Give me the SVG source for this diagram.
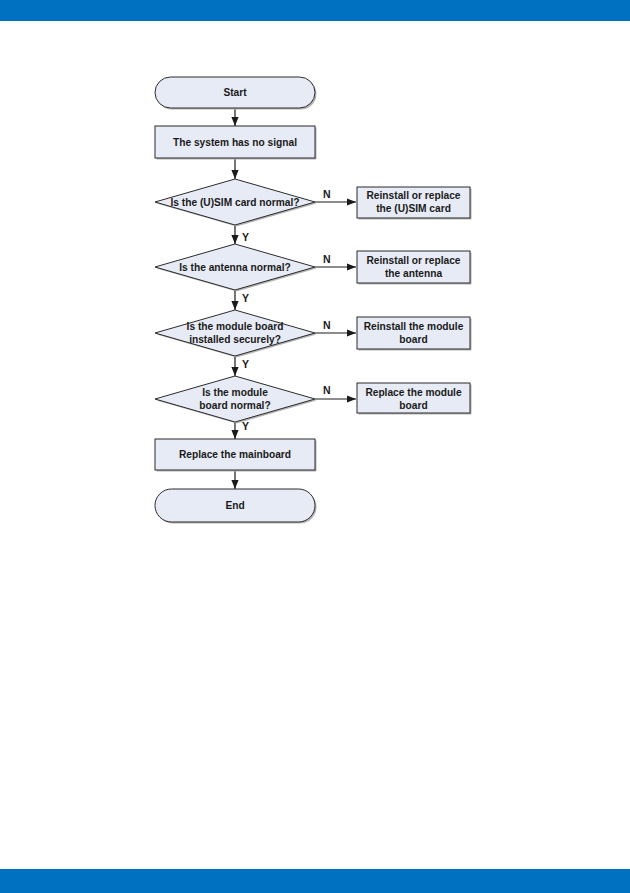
<svg xmlns="http://www.w3.org/2000/svg" width="630" height="893" viewBox="0 0 630 893">
<defs>
<style>
.n{fill:#e7ebf5;stroke:#2b2b2b;stroke-width:1}
.sh{fill:#b4b4b4}
.t{font-family:"Liberation Sans",Arial,sans-serif;font-weight:bold;font-size:10.2px;fill:#1a1a1a;text-anchor:middle}
.l{font-family:"Liberation Sans",Arial,sans-serif;font-weight:bold;font-size:10.5px;fill:#1a1a1a}
.c{stroke:#1a1a1a;stroke-width:1.2;fill:none;marker-end:url(#ah)}
</style>
<marker id="ah" viewBox="0 0 10 10" refX="10" refY="5" markerWidth="9" markerHeight="9" markerUnits="userSpaceOnUse" orient="auto">
<path d="M0,1 L10,5 L0,9 Z" fill="#1a1a1a"/>
</marker>
</defs>
<rect width="630" height="893" fill="#ffffff"/>
<rect x="0" y="0" width="630" height="21" fill="#0070c0"/>
<rect x="0" y="869" width="630" height="24" fill="#0070c0"/>

<g id="connectors">
<line class="c" x1="235" y1="108" x2="235" y2="126"/>
<line class="c" x1="235" y1="158" x2="235" y2="179"/>
<line class="c" x1="235" y1="225" x2="235" y2="244"/>
<line class="c" x1="235" y1="290" x2="235" y2="310"/>
<line class="c" x1="235" y1="356" x2="235" y2="376"/>
<line class="c" x1="235" y1="422" x2="235" y2="439"/>
<line class="c" x1="235" y1="470" x2="235" y2="489"/>
<line class="c" x1="315" y1="202" x2="356" y2="202"/>
<line class="c" x1="315" y1="267" x2="356" y2="267"/>
<line class="c" x1="315" y1="333" x2="356" y2="333"/>
<line class="c" x1="315" y1="399" x2="356" y2="399"/>
<text class="l" x="242" y="241">Y</text>
<text class="l" x="242" y="302">Y</text>
<text class="l" x="242" y="368">Y</text>
<text class="l" x="242" y="430">Y</text>
<text class="l" x="323" y="198">N</text>
<text class="l" x="323" y="263">N</text>
<text class="l" x="323" y="329">N</text>
<text class="l" x="323" y="394">N</text>
</g>

<g id="start">
<rect class="sh" x="156.5" y="78.5" width="160" height="31" rx="15.5"/>
<rect class="n" x="155" y="77" width="160" height="31" rx="15.5"/>
<text class="t" x="235" y="96">Start</text>
</g>
<g id="no-signal">
<rect class="sh" x="156.5" y="127.5" width="160" height="32"/>
<rect class="n" x="155" y="126" width="160" height="32"/>
<text class="t" x="235" y="145.5">The system has no signal</text>
</g>
<g id="sim-check">
<polygon class="sh" points="236.5,180.5 316.5,203.5 236.5,226.5 156.5,203.5"/>
<polygon class="n" points="235,179 315,202 235,225 155,202"/>
<text class="t" x="235" y="205.5">Is the (U)SIM card normal?</text>
</g>
<g id="sim-fix">
<rect class="sh" x="358.5" y="188.5" width="113" height="31"/>
<rect class="n" x="357" y="187" width="113" height="31"/>
<text class="t" x="413.5" y="199">Reinstall or replace</text>
<text class="t" x="413.5" y="212">the (U)SIM card</text>
</g>
<g id="antenna-check">
<polygon class="sh" points="236.5,245.5 316.5,268.5 236.5,291.5 156.5,268.5"/>
<polygon class="n" points="235,244 315,267 235,290 155,267"/>
<text class="t" x="235" y="270.5">Is the antenna normal?</text>
</g>
<g id="antenna-fix">
<rect class="sh" x="358.5" y="252.5" width="113" height="32"/>
<rect class="n" x="357" y="251" width="113" height="32"/>
<text class="t" x="413.5" y="264">Reinstall or replace</text>
<text class="t" x="413.5" y="277">the antenna</text>
</g>
<g id="install-check">
<polygon class="sh" points="236.5,311.5 316.5,334.5 236.5,357.5 156.5,334.5"/>
<polygon class="n" points="235,310 315,333 235,356 155,333"/>
<text class="t" x="235" y="330">Is the module board</text>
<text class="t" x="235" y="343">installed securely?</text>
</g>
<g id="install-fix">
<rect class="sh" x="358.5" y="318.5" width="113" height="32"/>
<rect class="n" x="357" y="317" width="113" height="32"/>
<text class="t" x="413.5" y="330">Reinstall the module</text>
<text class="t" x="413.5" y="343">board</text>
</g>
<g id="board-check">
<polygon class="sh" points="236.5,377.5 316.5,400.5 236.5,423.5 156.5,400.5"/>
<polygon class="n" points="235,376 315,399 235,422 155,399"/>
<text class="t" x="235" y="396">Is the module</text>
<text class="t" x="235" y="409">board normal?</text>
</g>
<g id="board-fix">
<rect class="sh" x="358.5" y="384.5" width="113" height="30"/>
<rect class="n" x="357" y="383" width="113" height="30"/>
<text class="t" x="413.5" y="395.5">Replace the module</text>
<text class="t" x="413.5" y="408.5">board</text>
</g>
<g id="mainboard">
<rect class="sh" x="156.5" y="440.5" width="160" height="31"/>
<rect class="n" x="155" y="439" width="160" height="31"/>
<text class="t" x="235" y="458">Replace the mainboard</text>
</g>
<g id="end">
<rect class="sh" x="156.5" y="490.5" width="160" height="33" rx="16.5"/>
<rect class="n" x="155" y="489" width="160" height="33" rx="16.5"/>
<text class="t" x="235" y="509">End</text>
</g>
</svg>
